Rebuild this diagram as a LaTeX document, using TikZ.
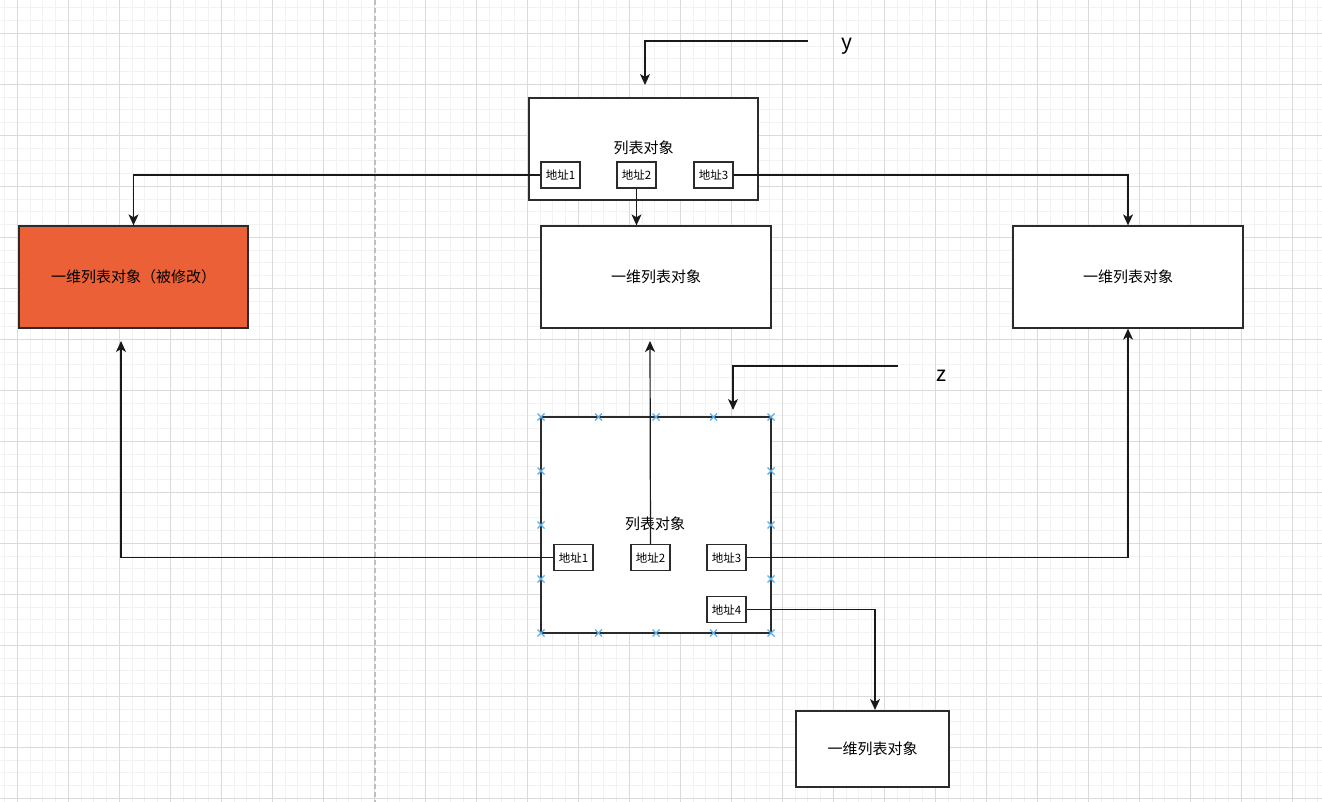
\documentclass[tikz,border=0pt]{standalone}
\usepackage{fontspec}
\setmainfont{Noto Sans CJK SC}
\usetikzlibrary{arrows.meta}
\definecolor{minorgrid}{HTML}{F2F2F2}
\definecolor{majorgrid}{HTML}{DADADA}
\definecolor{orangefill}{HTML}{EC6037}
\definecolor{boxline}{HTML}{2B2B2B}
\definecolor{markblue}{HTML}{5AAEEA}
\tikzset{
  box/.style={draw=boxline,line width=1.3pt,fill=white,inner sep=0pt,font=\fontsize{15}{17}\selectfont},
  bigbox/.style={box,minimum width=229pt,minimum height=102pt},
  addr/.style={box,minimum width=39pt,minimum height=26pt,font=\fontsize{11.5}{13}\selectfont},
  conn/.style={draw=black!90,line width=1.2pt,-{Stealth[length=11pt,width=10pt,inset=3pt]}},
  selmark/.style={draw=markblue,line width=1.3pt},
  lbl/.style={font=\fontsize{15}{17}\selectfont,inner sep=0pt},
  varlbl/.style={font=\fontsize{21}{24}\selectfont,inner sep=0pt}
}
\begin{document}
\begin{tikzpicture}[x=1pt,y=-1pt]
\useasboundingbox (0,0) rectangle (1322,802);
\fill[white] (0,0) rectangle (1322,802);
% grid
\foreach \i in {0,...,103} {\draw[minorgrid,line width=0.9pt] ({4.55+12.75*\i},0) -- ({4.55+12.75*\i},802);}
\foreach \i in {0,...,62} {\draw[minorgrid,line width=0.9pt] (0,{7.8+12.75*\i}) -- (1322,{7.8+12.75*\i});}
\foreach \i in {0,...,25} {\draw[majorgrid,line width=0.9pt] ({17.3+51*\i},0) -- ({17.3+51*\i},802);}
\foreach \i in {0,...,15} {\draw[majorgrid,line width=0.9pt] (0,{33.3+51*\i}) -- (1322,{33.3+51*\i});}
\draw[black!25,line width=1.2pt,dash pattern=on 5pt off 3pt] (375,0) -- (375,802);

% top list object
\node[bigbox] (top) at (643.5,149) {};
\node[lbl] (toplbl) at (643.5,148) {列表对象};
\node[addr] (ta1) at (560.5,175) {地址1};
\node[addr] (ta2) at (636.5,175) {地址2};
\node[addr] (ta3) at (713.5,175) {地址3};

% one-dimensional lists
\node[bigbox,fill=orangefill] (orange) at (133.5,277) {一维列表对象（被修改）};
\node[bigbox,minimum width=230pt] (mid) at (656,277) {一维列表对象};
\node[bigbox,minimum width=230pt] (right) at (1128,277) {一维列表对象};
\node[box,minimum width=153pt,minimum height=76pt] (br) at (872.5,749) {一维列表对象};

% bottom list object
\node[box,minimum width=230pt,minimum height=216pt] (bot) at (656,525) {};
\node[lbl] (botlbl) at (655,524) {列表对象};

% y and z labels
\node[varlbl] (ylbl) at (847,46) {y};
\node[varlbl] (zlbl) at (941,376) {z};
\coordinate (ystart) at (808,41);
\coordinate (yend) at (645,85);
\coordinate (zstart) at (898,366);
\coordinate (zend) at (733,410);
\draw[conn] (ystart) -| (yend);

% top connectors
\draw[conn] (ta1.west) -| (orange.north);
\draw[conn] (ta2.south) -- (ta2.south |- mid.north);
\draw[conn] (ta3.east) -| (right.north);

% bottom connectors
\coordinate (leftend) at (121,341);
\coordinate (midend) at (650,341);
\coordinate (brend) at (875,710);
\node[addr] (ba2) at (650.5,557.5) {地址2};
\draw[conn] (ba2.north) -- (midend);
\node[addr] (ba1) at (573.5,557.5) {地址1};
\node[addr] (ba3) at (726.5,557.5) {地址3};
\node[addr] (ba4) at (726.5,609.5) {地址4};
\draw[conn] (ba1.west) -| (leftend);
\draw[conn] (ba3.east) -| (right.south);
\draw[conn] (ba4.east) -| (brend);
\draw[conn] (zstart) -| (zend);

% selection markers
\foreach \px in {541,598.5,656,713.5,771} {
  \foreach \py in {417,633} {
    \draw[selmark] ({\px-3.5},{\py-3.5}) -- ({\px+3.5},{\py+3.5});
    \draw[selmark] ({\px-3.5},{\py+3.5}) -- ({\px+3.5},{\py-3.5});
  }
}
\foreach \px in {541,771} {
  \foreach \py in {471,525,579} {
    \draw[selmark] ({\px-3.5},{\py-3.5}) -- ({\px+3.5},{\py+3.5});
    \draw[selmark] ({\px-3.5},{\py+3.5}) -- ({\px+3.5},{\py-3.5});
  }
}
\end{tikzpicture}
\end{document}
